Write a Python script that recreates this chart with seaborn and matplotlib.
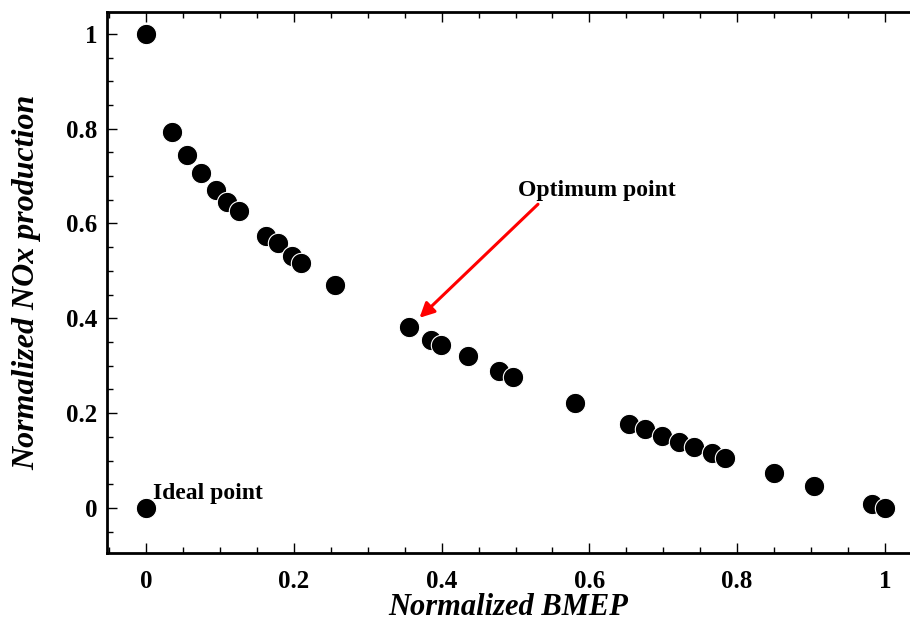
import matplotlib
matplotlib.use("Agg")
import matplotlib.pyplot as plt
from matplotlib.ticker import MultipleLocator, FuncFormatter
import seaborn as sns
import pandas as pd

bmep = [0.0, 0.035, 0.055, 0.074, 0.095, 0.110, 0.126, 0.162, 0.178, 0.197, 0.209, 0.255,
        0.356, 0.386, 0.399, 0.435, 0.478, 0.496, 0.580, 0.653, 0.675, 0.698, 0.721, 0.742,
        0.766, 0.784, 0.850, 0.904, 0.982, 1.0, 0.0]
nox = [1.0, 0.793, 0.745, 0.707, 0.671, 0.646, 0.627, 0.574, 0.559, 0.532, 0.517, 0.471,
       0.382, 0.355, 0.344, 0.320, 0.289, 0.277, 0.222, 0.178, 0.166, 0.152, 0.140, 0.129,
       0.116, 0.105, 0.073, 0.047, 0.008, 0.0, 0.0]
x_ticks = [0, 0.2, 0.4, 0.6, 0.8, 1.0]
y_ticks = [0, 0.2, 0.4, 0.6, 0.8, 1.0]

df = pd.DataFrame({"bmep": bmep, "nox": nox})

sns.set_style("ticks")
plt.rcParams["font.family"] = ["Liberation Serif", "DejaVu Serif"]
plt.rcParams["text.color"] = "black"
plt.rcParams["axes.labelcolor"] = "black"
plt.rcParams["xtick.color"] = "black"
plt.rcParams["ytick.color"] = "black"

fig = plt.figure(figsize=(9.10, 6.22), dpi=100)
ax = fig.add_axes([0.1176, 0.111, 0.8824, 0.8697])

sns.scatterplot(data=df, x="bmep", y="nox", ax=ax, color="black", s=215,
                edgecolor="white", linewidth=0.8, zorder=3, legend=False)

ax.set_xlim(-0.053, 1.034)
ax.set_ylim(-0.095, 1.046)
ax.set_xticks(x_ticks)
ax.set_yticks(y_ticks)
fmt = FuncFormatter(lambda v, p: f"{v:g}")
ax.xaxis.set_major_formatter(fmt)
ax.yaxis.set_major_formatter(fmt)
ax.xaxis.set_minor_locator(MultipleLocator(0.05))
ax.yaxis.set_minor_locator(MultipleLocator(0.05))

for side in ["left", "bottom", "top"]:
    ax.spines[side].set_linewidth(2)
    ax.spines[side].set_color("black")
ax.spines["right"].set_visible(False)

ax.tick_params(axis="x", which="both", direction="in", top=True, bottom=True,
               labelsize=18, pad=12, width=1, colors="black")
ax.tick_params(axis="y", which="both", direction="in", left=True, right=False,
               labelsize=18, pad=7, width=1, colors="black")
ax.tick_params(which="major", length=7)
ax.tick_params(which="minor", length=4)
for lab in ax.get_xticklabels() + ax.get_yticklabels():
    lab.set_fontweight("bold")

ax.set_xlabel("Normalized BMEP", fontsize=22, fontweight="bold", fontstyle="italic", labelpad=0)
ax.set_ylabel("Normalized NOx production", fontsize=23, fontweight="bold", fontstyle="italic", labelpad=18)

ax.annotate("Optimum point", xy=(0.370, 0.401), xytext=(0.503, 0.658),
            fontsize=17, fontweight="bold", ha="left", va="baseline", color="black",
            arrowprops=dict(arrowstyle="-|>", color="red", lw=2.2, mutation_scale=22,
                            shrinkA=0, shrinkB=0, relpos=(0.15, 0.0)))
ax.text(0.0095, 0.019, "Ideal point", fontsize=17, fontweight="bold", ha="left",
        va="baseline", color="black")

fig.savefig("out.png", dpi=100)
